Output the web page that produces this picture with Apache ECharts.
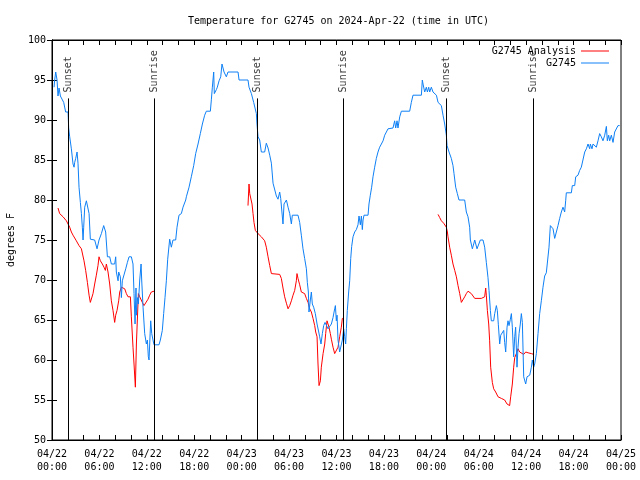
<!DOCTYPE html>
<html><head><meta charset="utf-8">
<script src="https://cdn.jsdelivr.net/npm/echarts@6/dist/echarts.min.js"></script>
<style>html,body{margin:0;padding:0;background:#fff}#c{width:640px;height:480px}</style>
</head><body><div id="c"></div>
<script>
// hours since 04/22 00:00 UTC
const xTickLabels = ['04/22\n00:00','04/22\n06:00','04/22\n12:00','04/22\n18:00','04/23\n00:00','04/23\n06:00','04/23\n12:00','04/23\n18:00','04/24\n00:00','04/24\n06:00','04/24\n12:00','04/24\n18:00','04/25\n00:00'];

const sunTimes = [2.02, 12.91, 25.94, 36.82, 49.90, 60.87];
const sunNames = ['Sunset','Sunrise','Sunset','Sunrise','Sunset','Sunrise'];
const sunLineTop = 92.7;

const blueT = [0.26,0.34,0.47,0.64,0.76,0.89,1.06,1.31,1.48,1.73,2.03,2.11,2.24,2.45,2.66,2.79,2.87,3.00,3.17,3.29,3.42,3.59,3.72,3.84,3.93,4.01,4.14,4.35,4.47,4.69,4.85,5.40,5.70,5.95,6.25,6.54,6.67,6.79,7.01,7.30,7.51,7.93,8.06,8.14,8.36,8.44,8.65,8.78,8.90,9.07,9.33,9.54,9.75,10.04,10.25,10.38,10.51,10.63,10.68,10.80,10.93,11.10,11.27,11.35,11.52,11.73,11.94,12.07,12.19,12.28,12.36,12.49,12.62,12.78,12.91,13.54,13.71,13.96,14.13,14.30,14.47,14.64,14.89,15.10,15.31,15.65,15.82,16.07,16.37,16.58,16.92,17.00,17.34,17.63,17.93,18.18,18.48,18.77,19.03,19.32,19.53,20.04,20.17,20.29,20.46,20.54,20.80,20.92,21.14,21.35,21.51,21.64,21.77,22.06,22.27,23.54,23.67,24.80,24.93,25.23,25.52,25.65,25.86,25.94,26.07,26.28,26.49,26.91,27.12,27.34,27.55,27.76,27.97,28.18,28.39,28.60,28.81,28.94,29.15,29.23,29.36,29.66,29.87,30.08,30.29,30.41,31.13,31.34,31.55,31.76,31.97,32.19,32.31,32.44,32.52,32.69,32.82,32.94,33.11,33.32,33.54,33.75,33.87,34.04,34.21,34.38,34.55,34.80,34.93,35.14,35.35,35.56,35.77,35.86,35.98,36.07,36.19,36.40,36.61,36.74,36.91,37.04,37.16,37.25,37.37,37.54,37.67,37.80,37.92,38.09,38.30,38.51,38.72,38.85,39.02,39.15,39.27,39.36,39.48,39.99,40.11,40.28,40.45,40.62,40.83,41.04,41.25,41.46,41.68,41.89,42.10,42.31,42.52,43.15,43.36,43.49,43.66,43.78,44.00,44.21,45.26,45.47,45.68,46.74,46.86,46.95,47.16,47.37,47.50,47.67,47.79,48.00,48.21,48.42,48.64,48.85,49.27,49.48,49.69,49.90,49.99,50.24,50.53,50.74,50.87,51.08,51.29,51.50,52.22,52.43,52.64,52.85,52.94,53.19,53.36,53.49,53.61,53.78,54.03,54.20,54.54,54.75,54.96,55.17,55.30,55.47,55.59,55.89,56.02,56.23,56.35,56.48,56.65,56.78,56.99,57.16,57.28,57.41,57.58,57.70,57.83,58.00,58.13,58.25,58.42,58.55,58.67,58.84,58.97,59.10,59.26,59.39,59.52,59.69,59.94,60.11,60.45,60.66,60.78,60.95,61.08,61.29,61.50,61.71,61.92,62.13,62.34,62.55,62.77,62.89,63.06,63.23,63.40,63.61,63.82,64.03,64.24,64.45,64.66,64.87,65.00,65.08,65.72,65.84,66.14,66.27,66.56,66.77,66.98,67.19,67.41,67.62,67.83,68.04,68.12,68.33,68.46,68.67,68.88,69.09,69.30,69.51,69.72,69.94,70.15,70.27,70.44,70.57,70.78,70.99,71.20,71.41,71.62,71.83];
const blueV = [94.1,95.0,96.0,95.0,93.0,94.0,93.0,93.0,92.2,91.0,91.0,89.0,87.9,86.4,84.5,84.1,84.7,85.2,86.0,84.6,81.6,79.7,78.3,76.6,75.0,76.6,79.1,79.9,79.9,78.3,75.1,75.0,73.9,75.0,75.8,76.8,77.0,76.0,72.9,72.9,72.0,72.0,72.9,71.0,69.9,71.0,70.4,67.8,69.9,70.5,71.4,72.2,72.9,72.9,72.0,68.3,64.5,69.0,65.6,67.8,67.0,70.0,72.0,70.0,66.6,63.3,62.0,62.5,60.4,60.0,62.0,64.9,63.3,62.5,61.9,61.9,62.5,63.7,65.8,67.8,69.9,72.6,75.1,74.1,75.0,75.0,76.6,78.1,78.3,79.1,80.0,80.4,81.6,82.9,84.3,85.8,87.0,88.3,89.5,90.6,91.1,91.1,92.6,94.1,96.0,93.3,93.8,94.1,94.9,95.4,97.0,96.5,96.0,95.4,96.0,96.0,95.0,95.0,94.1,93.3,92.2,92.0,90.8,89.5,87.9,87.5,86.0,86.0,87.1,86.5,85.6,84.6,82.1,82.1,80.5,80.1,81.0,80.2,80.0,77.0,79.5,80.0,79.1,78.3,77.0,78.1,78.1,77.2,75.6,73.9,72.7,71.4,69.7,68.5,66.0,67.5,68.5,67.0,66.6,65.8,64.5,63.5,62.9,62.0,63.3,64.3,64.7,64.9,63.9,63.9,64.5,65.3,66.4,66.8,64.9,65.6,62.5,61.0,61.0,62.5,63.9,62.9,62.0,63.9,66.2,68.5,69.9,72.7,74.2,75.4,76.0,76.3,76.9,78.0,76.9,78.0,76.3,77.5,78.1,78.1,79.5,80.6,81.6,82.9,84.1,85.2,86.0,86.6,87.0,87.4,88.1,88.5,88.9,89.0,89.9,89.0,89.9,89.0,90.4,91.1,91.1,92.2,93.1,93.1,95.0,94.5,93.5,94.1,93.5,94.1,93.5,94.1,93.5,93.7,93.1,92.2,91.8,90.6,89.5,88.1,86.8,86.0,85.2,84.3,83.3,81.6,80.8,80.0,80.0,78.5,77.9,76.6,75.0,73.9,74.5,75.0,74.8,73.9,73.9,75.0,75.0,74.1,72.2,70.3,68.7,66.2,64.9,64.9,65.8,66.8,66.2,64.4,62.0,63.1,63.3,63.7,62.2,61.0,64.1,64.9,64.3,65.1,65.8,64.1,60.4,62.9,64.1,59.1,61.6,63.3,64.5,65.8,64.7,57.9,57.0,57.9,58.1,59.1,60.0,59.1,59.5,60.8,63.3,65.8,67.4,69.1,70.5,70.9,70.9,74.1,76.8,77.0,76.4,75.2,76.0,76.8,77.7,78.5,79.1,78.5,79.9,80.9,80.9,81.8,81.8,82.9,83.1,83.7,84.1,84.1,86.0,86.4,87.0,86.4,87.0,86.4,87.0,86.8,86.6,87.4,88.3,87.9,87.4,88.1,89.2,87.4,88.1,87.4,88.1,87.2,88.5,88.7,89.3,89.3];

// null marks a gap between the nightly analysis runs
const redT = [0.76,0.97,1.40,1.82,2.03,2.24,2.45,2.66,3.08,3.42,3.72,3.93,4.05,4.26,4.48,4.69,4.85,4.98,5.19,5.40,5.61,5.82,5.95,6.12,6.37,6.58,6.75,6.88,7.09,7.30,7.51,7.72,7.93,8.06,8.23,8.44,8.57,8.78,8.99,9.20,9.41,9.62,9.75,9.92,10.04,10.25,10.38,10.55,10.68,10.93,11.10,11.43,11.64,11.85,12.15,12.36,12.57,12.78,12.91,
  null,
  24.80,24.93,25.02,25.14,25.31,25.44,25.56,25.73,25.86,26.07,26.49,26.91,27.12,27.34,27.55,27.76,28.81,29.02,29.23,29.44,29.66,29.87,30.08,30.29,30.50,30.71,30.92,31.00,31.13,31.34,31.55,31.97,32.19,32.40,32.61,32.82,33.03,33.24,33.37,33.54,33.66,33.79,33.96,34.08,34.30,34.51,34.63,34.80,34.93,35.05,35.22,35.35,35.56,35.77,35.98,36.19,36.40,36.61,36.74,36.91,
  null,
  48.85,49.06,49.27,49.56,49.90,50.03,50.11,50.32,50.53,50.74,50.96,51.17,51.38,51.59,51.80,52.01,52.22,52.43,52.64,52.85,53.06,53.28,53.49,54.33,54.75,54.88,54.96,55.09,55.26,55.38,55.51,55.72,55.89,56.14,56.44,56.86,57.28,57.58,57.91,58.04,58.25,58.42,58.55,58.76,58.97,59.18,59.39,59.69,59.94,60.24,60.66,60.95];
const redV = [79.0,78.3,77.9,77.4,77.2,76.6,76.0,75.6,74.9,74.3,73.9,73.9,72.4,71.2,69.7,68.1,67.2,67.4,68.3,69.5,70.6,71.8,72.9,72.4,72.0,71.6,71.2,72.0,71.0,69.5,67.4,66.2,64.7,65.6,66.2,67.4,68.5,69.1,69.3,68.9,68.3,67.9,68.1,67.9,65.4,61.6,59.5,56.6,62.0,68.3,67.9,67.2,66.8,67.0,67.6,68.1,68.5,68.7,68.6,
  null,
  79.3,82.0,80.8,81.0,79.5,78.3,77.2,76.2,76.0,75.8,75.4,74.9,74.1,72.9,71.8,70.8,70.7,70.2,69.0,67.9,67.1,66.4,66.8,67.4,68.1,68.7,69.9,70.8,70.2,69.4,68.5,68.3,67.7,67.2,66.4,66.0,65.2,64.3,63.5,62.9,59.5,56.8,57.4,59.1,60.8,62.0,63.3,64.9,64.9,64.1,63.3,62.6,61.6,60.8,60.6,61.6,62.9,64.1,65.2,65.2,
  null,
  78.2,77.8,77.4,77.1,76.6,76.0,75.4,74.1,73.1,72.0,71.2,70.4,69.3,68.3,67.2,67.2,67.9,68.3,68.6,68.6,68.3,68.1,67.7,67.7,67.9,69.0,68.1,66.2,64.5,62.4,59.1,57.2,56.4,56.0,55.4,55.2,55.0,54.5,54.3,55.4,57.0,59.1,60.3,60.8,61.4,61.0,60.8,60.7,61.0,60.9,60.8,60.7];

const FONT = "'DejaVu Sans Mono', 'Liberation Mono', monospace";
const RED = '#ff0000';
const BLUE = '#0e80f5';

const toPairs = (ts, vs) => ts.map((t, i) => (t === null || vs[i] === null) ? ['-', '-'] : [t, vs[i]]);

const chart = echarts.init(document.getElementById('c'), null, {renderer: 'canvas'});
const axisCommon = {
  type: 'value', min: 0, max: 72, interval: 6,
  axisLine: {show: true, lineStyle: {color: '#000', width: 1}},
  axisTick: {show: true, inside: true, length: 5, lineStyle: {color: '#000'}},
  minorTick: {show: true, splitNumber: 3, length: 5, lineStyle: {color: '#000'}},
  splitLine: {show: false}
};
const yCommon = {
  type: 'value', min: 50, max: 100, interval: 5,
  axisLine: {show: true, lineStyle: {color: '#000', width: 1}},
  axisTick: {show: true, inside: true, length: 5, lineStyle: {color: '#000'}},
  splitLine: {show: false}
};
chart.setOption({
  animation: false,
  backgroundColor: '#fff',
  title: {
    text: 'Temperature for G2745 on 2024-Apr-22 (time in UTC)',
    left: 183, top: 11,
    textStyle: {fontFamily: FONT, fontSize: 10, fontWeight: 'normal', color: '#000'}
  },
  grid: {left: 52, right: 19, top: 40, bottom: 40, containLabel: false, outerBoundsMode: 'none',
    show: true, borderColor: '#000', borderWidth: 1, backgroundColor: 'transparent'},
  legend: [
    {data: ['G2745 Analysis'], right: 26, top: 41, orient: 'vertical', align: 'right', icon: 'rect', itemWidth: 28, itemHeight: 1,
     textStyle: {fontFamily: FONT, fontSize: 10, color: '#000'}},
    {data: ['G2745'], right: 26, top: 53, orient: 'vertical', align: 'right', icon: 'rect', itemWidth: 28, itemHeight: 1,
     textStyle: {fontFamily: FONT, fontSize: 10, color: '#000'}}
  ],
  xAxis: [
    Object.assign({}, axisCommon, {
      position: 'bottom',
      axisLabel: {show: true, margin: 8, fontFamily: FONT, fontSize: 10, color: '#000', lineHeight: 13,
        formatter: v => xTickLabels[Math.round(v / 6)] || ''}
    }),
    Object.assign({}, axisCommon, {position: 'top', axisLabel: {show: false}})
  ],
  yAxis: [
    Object.assign({}, yCommon, {
      position: 'left',
      name: 'degrees F', nameLocation: 'middle', nameGap: 36, nameRotate: 90,
      nameTextStyle: {fontFamily: FONT, fontSize: 10, color: '#000'},
      axisLabel: {show: true, margin: 6, fontFamily: FONT, fontSize: 10, color: '#000'}
    }),
    Object.assign({}, yCommon, {position: 'right', axisLabel: {show: false}})
  ],
  series: [
    {
      name: 'sun', type: 'line', data: [], silent: true,
      markLine: {
        silent: true, symbol: ['none', 'none'], animation: false,
        lineStyle: {color: '#000', width: 1, type: 'solid'},
        label: {show: false},
        data: sunTimes.map(t => [{coord: [t, 50]}, {coord: [t, sunLineTop]}])
      }
    },
    {
      name: 'sunLabels', type: 'scatter', symbolSize: 0, silent: true,
      data: sunTimes.map((t, i) => ({value: [t, sunLineTop], name: sunNames[i]})),
      label: {show: true, formatter: p => p.name, position: 'top', distance: 6, rotate: 90,
        align: 'left', verticalAlign: 'middle', offset: [0, 0],
        fontFamily: FONT, fontSize: 10, color: '#000'}
    },
    {
      name: 'G2745 Analysis', type: 'line', data: toPairs(redT, redV),
      showSymbol: false, symbol: 'none', connectNulls: false,
      lineStyle: {color: RED, width: 1}, itemStyle: {color: RED}
    },
    {
      name: 'G2745', type: 'line', data: toPairs(blueT, blueV),
      showSymbol: false, symbol: 'none',
      lineStyle: {color: BLUE, width: 1}, itemStyle: {color: BLUE}
    }
  ]
});
</script></body></html>
